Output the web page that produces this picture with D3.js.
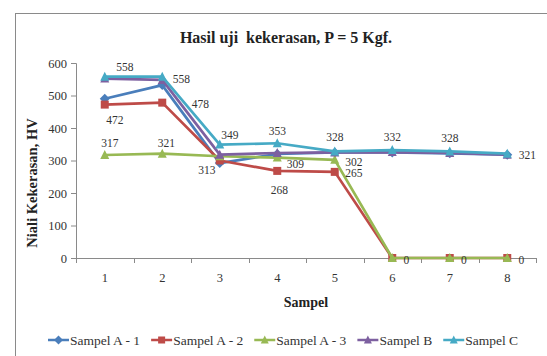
<!DOCTYPE html>
<html><head><meta charset="utf-8">
<script src="https://cdn.jsdelivr.net/npm/d3@7/dist/d3.min.js"></script>
<style>body{margin:0;background:#fff}svg{display:block}</style>
</head><body><svg id="c" width="547" height="356"></svg>
<script>
const categories = ["1","2","3","4","5","6","7","8"];
const yTicks = [0,100,200,300,400,500,600];
const seriesNames = ["Sampel A - 1","Sampel A - 2","Sampel A - 3","Sampel B","Sampel C"];
const valuesA1 = [490,532,292,320,325,325,322,318];
const valuesA2 = [472,478,300,268,265,0,0,0];
const valuesA3 = [317,321,313,309,302,0,0,0];
const valuesB  = [552,548,318,323,325,326,323,318];
const valuesC  = [558,558,349,353,328,332,328,321];
const titleText = "Hasil uji  kekerasan, P = 5 Kgf.";
const xTitle = "Sampel";
const yTitle = "Niali Kekerasan, HV";

const FONT = "'Liberation Serif', 'Times New Roman', 'DejaVu Serif', serif";
const colors = ["#4a7ebb","#be4b48","#98b954","#7d60a0","#46aac5"];
const shapes = ["diamond","square","triangle","triangle","triangle"];
const series = seriesNames.map((n,i)=>({name:n,values:[valuesA1,valuesA2,valuesA3,valuesB,valuesC][i],color:colors[i],shape:shapes[i]}));
// label offsets [dx,dy] per series point (null = no label)
const labelOffsets = [
  null,
  [[10,15],[38,1],null,[2,19],[19,1],[14,2],[14,2],[14,2]],
  [[5,-12],[4,-11],[-13,14],[18,6],[19,2],null,null,null],
  null,
  [[20,-10],[19,2],[10,-10],[0,-12],[0,-14],[0,-13],[0,-13],[20,1]]
];

const svg = d3.select("#c").attr("font-family",FONT);
svg.append("rect").attr("x",15.5).attr("y",13.5).attr("width",560).attr("height",360)
  .attr("fill","#fff").attr("stroke","#8a8a8a").attr("stroke-width",1);

const x = d3.scalePoint().domain(categories).range([76,536]).padding(0.5);
const y = d3.scaleLinear().domain([0,600]).range([258,63]);

function T(sel){ return sel.style("font-family",FONT).attr("fill","#222"); }

// title
T(svg.append("text")).attr("x",286).attr("y",43).attr("text-anchor","middle")
  .style("font-size","16px").style("font-weight","bold").style("white-space","pre").text(titleText);

// y axis
const ya = svg.append("g").attr("transform","translate(76,0)")
  .call(d3.axisLeft(y).tickValues(yTicks).tickSize(5).tickPadding(4));
ya.attr("font-family",FONT);
ya.select(".domain").attr("stroke","#8a8a8a").attr("d","M-5,63.5H0.5V258.5");
ya.selectAll(".tick line").attr("stroke","#8a8a8a");
ya.selectAll("text").style("font-family",FONT).style("font-size","12.5px").attr("fill","#333");

// x axis
const xa = svg.append("g").attr("transform","translate(0,258)");
xa.append("line").attr("x1",76).attr("x2",536).attr("y1",0.5).attr("y2",0.5).attr("stroke","#8a8a8a");
const step = x.step();
d3.range(categories.length+1).forEach(i=>{
  const xx = Math.round(76+i*step)+0.5;
  xa.append("line").attr("x1",xx).attr("x2",xx).attr("y1",0).attr("y2",5).attr("stroke","#8a8a8a");
});
xa.selectAll("text.xt").data(categories).join("text").attr("class","xt")
  .attr("x",d=>x(d)).attr("y",24).attr("text-anchor","middle")
  .style("font-family",FONT).style("font-size","12.5px").attr("fill","#333").text(d=>d);

T(svg.append("text")).attr("x",306).attr("y",307).attr("text-anchor","middle")
  .style("font-size","14px").style("font-weight","bold").text(xTitle);
T(svg.append("text")).attr("transform","translate(37,183) rotate(-90)").attr("text-anchor","middle")
  .style("font-size","14.5px").style("font-weight","bold").text(yTitle);

function marker(g, shape, cx, cy, color, s){
  if(shape==="square"){
    g.append("rect").attr("x",cx-s).attr("y",cy-s).attr("width",2*s).attr("height",2*s).attr("fill",color);
  } else if(shape==="diamond"){
    g.append("path").attr("d",`M${cx},${cy-s-1}L${cx+s+1},${cy}L${cx},${cy+s+1}L${cx-s-1},${cy}Z`).attr("fill",color);
  } else {
    g.append("path").attr("d",`M${cx},${cy-s-1}L${cx+s+0.5},${cy+s}L${cx-s-0.5},${cy+s}Z`).attr("fill",color);
  }
}

const line = d3.line().x((d,i)=>x(categories[i])).y(d=>y(d));
const plot = svg.append("g");
series.forEach(s=>{
  plot.append("path").attr("d",line(s.values)).attr("fill","none").attr("stroke",s.color)
    .attr("stroke-width",2.7).attr("stroke-linejoin","round");
  s.values.forEach((v,i)=>marker(plot,s.shape,x(categories[i]),y(v),s.color,4));
});

// data labels
const lab = svg.append("g");
series.forEach((s,si)=>{
  const offs = labelOffsets[si]; if(!offs) return;
  s.values.forEach((v,i)=>{
    const o = offs[i]; if(!o) return;
    lab.append("text").attr("x",x(categories[i])+o[0]).attr("y",y(v)+o[1])
      .attr("text-anchor","middle").attr("dominant-baseline","central")
      .style("font-family",FONT).style("font-size","11.5px").attr("fill","#333").text(v);
  });
});

// legend
const leg = svg.append("g").attr("transform","translate(0,340)");
let lx = 48;
series.forEach(s=>{
  leg.append("line").attr("x1",lx).attr("x2",lx+21).attr("y1",0).attr("y2",0).attr("stroke",s.color).attr("stroke-width",2.5);
  marker(leg,s.shape,lx+10.5,0,s.color,3.5);
  const t = leg.append("text").attr("x",lx+22).attr("y",0).attr("dominant-baseline","central")
    .style("font-family",FONT).style("font-size","13.5px").attr("fill","#333").text(s.name);
  lx += 22 + t.node().getComputedTextLength() + 11;
});
</script></body></html>
